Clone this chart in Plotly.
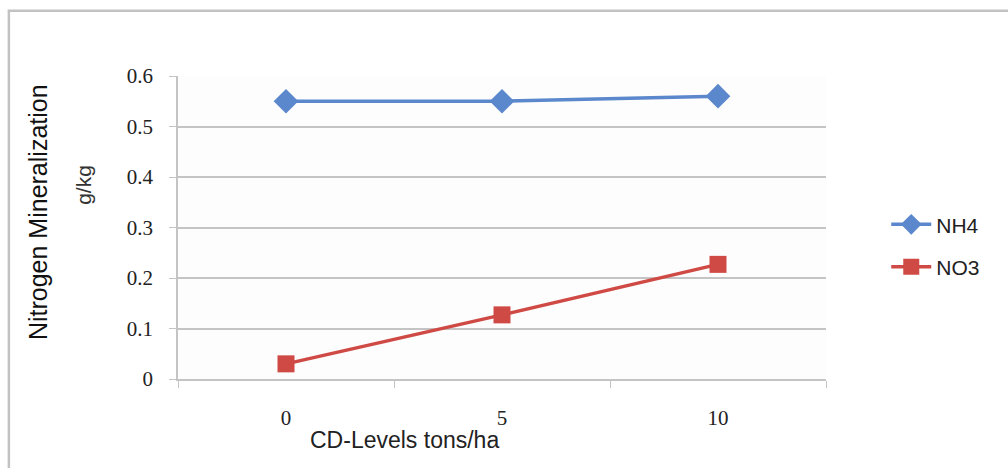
import plotly.graph_objects as go

# CD application levels (tons/ha) and mineralized nitrogen (g/kg)
cd_levels = ["0", "5", "10"]
nh4 = [0.55, 0.55, 0.56]
no3 = [0.03, 0.127, 0.227]

y_ticks = [0, 0.1, 0.2, 0.3, 0.4, 0.5, 0.6]
y_tick_text = ["0", "0.1", "0.2", "0.3", "0.4", "0.5", "0.6"]

blue = "#5b87cc"
red = "#cf4a45"
grid = "#c4c4c4"

# one slot per CD level on a linear axis, labelled with the level
slots = list(range(len(cd_levels)))
boundaries = [s - 0.5 for s in slots] + [slots[-1] + 0.5]

fig = go.Figure()
fig.add_trace(go.Scatter(
    x=slots, y=nh4, name="NH4", mode="lines+markers", legendgroup="nh4",
    line=dict(color=blue, width=3.5),
    marker=dict(symbol="diamond", size=19, color=blue),
))
fig.add_trace(go.Scatter(
    x=slots, y=no3, name="NO3", mode="lines+markers", legendgroup="no3",
    line=dict(color=red, width=3.5),
    marker=dict(symbol="square", size=17, color=red),
))

fig.update_layout(
    width=1008, height=468,
    margin=dict(l=178, r=182, t=76, b=89),
    paper_bgcolor="white",
    plot_bgcolor="#fdfdfd",
    showlegend=True,
    legend=dict(
        x=1.093, y=0.44, xanchor="left", yanchor="middle",
        font=dict(family="Liberation Sans", size=21, color="#222"),
        traceorder="grouped", itemwidth=40, tracegroupgap=12,
        bgcolor="rgba(0,0,0,0)",
    ),
    xaxis=dict(
        range=[boundaries[0], boundaries[-1]],
        tickvals=slots, ticktext=cd_levels, ticks="",
        minor=dict(tickvals=boundaries, ticks="outside", ticklen=7,
                   tickcolor=grid, showgrid=False),
        showgrid=False, zeroline=False,
        showline=True, linecolor=grid, linewidth=1.5,
        tickfont=dict(family="Liberation Serif", size=21, color="#222"),
        ticklabelstandoff=19,
    ),
    yaxis=dict(
        range=[0, 0.6], tickvals=y_ticks, ticktext=y_tick_text,
        showgrid=True, gridcolor=grid, gridwidth=1.5,
        showline=True, linecolor=grid, linewidth=1.5,
        ticks="outside", ticklen=7, tickcolor=grid,
        tickfont=dict(family="Liberation Serif", size=21, color="#222"),
        ticklabelstandoff=12, zeroline=False,
    ),
    shapes=[dict(
        type="rect", xref="paper", yref="paper",
        x0=-0.261, x1=1.5, y0=-0.5, y1=1.215,
        line=dict(color="#c2c2c2", width=2.5), layer="below",
    )],
    annotations=[
        dict(text="Nitrogen Mineralization", xref="paper", yref="paper",
             x=-0.216, y=0.551, xanchor="center", yanchor="middle",
             textangle=-90, showarrow=False,
             font=dict(family="Liberation Sans", size=25, color="#111")),
        dict(text="g/kg", xref="paper", yref="paper",
             x=-0.147, y=0.64, xanchor="center", yanchor="middle",
             textangle=-90, showarrow=False,
             font=dict(family="Liberation Sans", size=21, color="#333")),
        dict(text="CD-Levels tons/ha", xref="paper", yref="paper",
             x=0.35, y=-0.201, xanchor="center", yanchor="middle",
             showarrow=False,
             font=dict(family="Liberation Sans", size=23, color="#222")),
    ],
)

fig.write_html("out.html")
